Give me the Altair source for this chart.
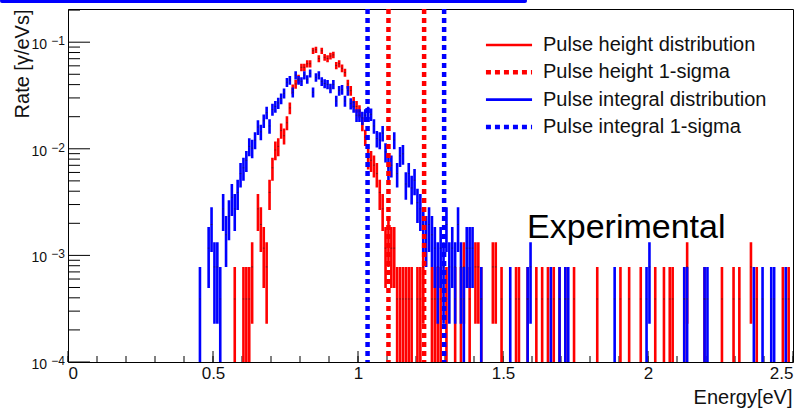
import math
import altair as alt
import pandas as pd

# ---------------- data ----------------
BIN_WIDTH = 0.01          # eV per histogram bin
RATE_PER_COUNT = 3.9e-4   # rate level of a single-count bin
Y_MIN, Y_MAX = 1e-4, 0.2048
X_MIN, X_MAX = 0.0, 2.5

SERIES = ["Pulse height distribution", "Pulse height 1-sigma",
          "Pulse integral distribution", "Pulse integral 1-sigma"]
COLORS = ["#ff0000", "#ff0000", "#0000ff", "#0000ff"]

# Pulse height distribution (red): counts per bin, dense part starts at bin 57
red_start_bin = 57
red_counts = [1, 0, 0, 1, 1, 1, 2, 0, 7, 5, 3, 2, 10, 17, 25, 27, 38, 34, 45, 62,
              93, 104, 116, 149, 149, 161, 161, 213, 218, 180, 213, 185, 180, 190, 195, 155,
              161, 146, 133, 104, 90, 70, 64, 58, 44, 33, 21, 20, 18, 15, 10, 7,
              3, 4, 3, 3, 1, 1, 1, 1, 1, 1, 0, 1, 1, 2, 0, 0, 1, 1, 1, 1,
              0, 1, 0, 0, 1, 0, 1, 2, 0, 1, 0, 2, 2, 1, 0, 0, 0, 2, 2, 0, 1]
red_tail_bins = [154, 155, 158, 161, 163, 165, 167, 169, 171, 174, 182, 190, 193, 197,
                 202, 205, 207, 208, 212, 213, 219, 225, 229, 231, 235, 237, 246, 248]
red_tail_counts = [1, 1, 1, 1, 1, 1, 1, 1, 1, 1, 1, 1, 1, 1,
                   1, 1, 1, 1, 1, 2, 1, 1, 1, 1, 2, 1, 1, 1]

# Pulse integral distribution (blue)
blue_start_bin = 45
blue_counts = [1, 0, 0, 3, 5, 2, 2, 1, 7, 4, 6, 9, 7, 10, 15, 17, 20, 27, 26, 31,
               41, 37, 47, 56, 42, 60, 64, 69, 76, 85, 108, 113, 87, 126, 113, 110,
               126, 115, 131, 87, 120, 126, 110, 105, 103, 95, 103, 72, 90, 92, 72, 90,
               68, 64, 53, 53, 50, 53, 56, 54, 42, 32, 31, 36, 24, 17, 18, 31,
               15, 22, 23, 12, 15, 11, 13, 8, 7, 5, 4, 5, 4, 3, 2, 3, 2, 5, 2, 3,
               2, 5, 2, 1, 3, 3, 3, 0, 0, 1]
blue_tail_bins = [152, 158, 159, 166, 169, 171, 172, 188, 199, 200, 212, 213, 219, 220,
                  236, 239, 242, 243, 247]
blue_tail_counts = [1, 1, 2, 1, 1, 1, 1, 1, 1, 2, 1, 1, 1, 1, 1, 1, 1, 1, 1]

# 1-sigma markers (eV)
red_sigma = [1.105, 1.228]
blue_sigma = [1.033, 1.297]

# axis decorations
x_major = [0, 0.5, 1, 1.5, 2, 2.5]
x_minor = [round(0.1 * i, 2) for i in range(26)]
y_major = [1e-4, 1e-3, 1e-2, 1e-1]
y_exponents = ["\u22124", "\u22123", "\u22122", "\u22121"]
y_minor = [k * d for d in y_major for k in range(2, 10) if k * d <= Y_MAX]

annotation_text = ["Experimental"]
annotation_x = [1.583]
annotation_y = [1.46e-3]

FONT = "Liberation Sans"


# ---------------- tables ----------------
def hist_rows(name, start, dense, tail_bins, tail_counts):
    pairs = [(start + i, c) for i, c in enumerate(dense)] + list(zip(tail_bins, tail_counts))
    rows = []
    for b, c in pairs:
        if c <= 0:
            continue
        rate = c * RATE_PER_COUNT
        err = math.sqrt(c) * RATE_PER_COUNT
        rows.append({
            "series": name,
            "e": (b + 0.5) * BIN_WIDTH,
            "e_lo": b * BIN_WIDTH + 0.002,
            "e_hi": (b + 1) * BIN_WIDTH - 0.002,
            "rate": rate,
            "lo": max(rate - err, Y_MIN),
            "hi": min(rate + err, Y_MAX),
        })
    return rows


hist = pd.DataFrame(
    hist_rows(SERIES[0], red_start_bin, red_counts, red_tail_bins, red_tail_counts)
    + hist_rows(SERIES[2], blue_start_bin, blue_counts, blue_tail_bins, blue_tail_counts)
)
sigma = pd.DataFrame(
    [{"series": SERIES[1], "e": v} for v in red_sigma]
    + [{"series": SERIES[3], "e": v} for v in blue_sigma]
)

xscale = alt.Scale(domain=[X_MIN, X_MAX], nice=False, zero=False)
yscale = alt.Scale(type="log", domain=[Y_MIN, Y_MAX], nice=False)

color_enc = alt.Color("series:N", scale=alt.Scale(domain=SERIES, range=COLORS),
                      legend=alt.Legend(
                          orient="none", legendX=431, legendY=26, title=None,
                          symbolType="M-5,0H5", symbolSize=85,
                          labelFont=FONT, labelFontSize=20, labelColor="#111",
                          labelOffset=24, rowPadding=7.3, labelLimit=400,
                          symbolFillColor="transparent"))
dash_enc = alt.StrokeDash("series:N", scale=alt.Scale(
    domain=SERIES, range=[[1, 0], [5, 4], [1, 0], [5, 4]]), legend=None)
width_enc = alt.StrokeWidth("series:N", scale=alt.Scale(
    type="ordinal", domain=SERIES, range=[2.6, 4.5, 2.6, 4.5]), legend=None)

x_axis = alt.Axis(values=x_major, format="~g", labelFont=FONT, labelFontSize=17,
                  labelColor="#111", labelPadding=3, ticks=False, domain=False,
                  grid=False, title="Energy[eV]", titleFont=FONT, titleFontSize=20,
                  titleFontWeight="normal", titleColor="#111", titleX=724,
                  titleY=41, titleAlign="right", titleBaseline="alphabetic")
y_axis = alt.Axis(labels=False, ticks=False, domain=False, grid=False,
                  title="Rate [\u03b3/eVs]", titleFont=FONT, titleFontSize=20,
                  titleFontWeight="normal", titleColor="#111", titleAngle=270,
                  titleAlign="right", titleBaseline="middle", titleX=-46, titleY=0)

# ticks (drawn inside the frame, like ROOT)
ticks_y_major = alt.Chart(pd.DataFrame({"v": y_major})).mark_rule(
    color="black", strokeWidth=1).encode(
    y=alt.Y("v:Q", scale=yscale, axis=y_axis), x=alt.value(0), x2=alt.value(22))
ticks_y_minor = alt.Chart(pd.DataFrame({"v": y_minor})).mark_rule(
    color="black", strokeWidth=1).encode(
    y=alt.Y("v:Q", scale=yscale), x=alt.value(0), x2=alt.value(12))
ticks_x_major = alt.Chart(pd.DataFrame({"v": x_major})).mark_rule(
    color="black", strokeWidth=1).encode(
    x=alt.X("v:Q", scale=xscale, axis=x_axis), y=alt.value(353), y2=alt.value(342))
ticks_x_minor = alt.Chart(pd.DataFrame({"v": x_minor})).mark_rule(
    color="black", strokeWidth=1).encode(
    x=alt.X("v:Q", scale=xscale), y=alt.value(353), y2=alt.value(347))

ylab_df = pd.DataFrame({"v": y_major, "base": ["10"] * 4, "exp": y_exponents})
ylab_base = alt.Chart(ylab_df).mark_text(
    font=FONT, fontSize=14, align="right", baseline="middle", dy=3, color="#111").encode(
    y=alt.Y("v:Q", scale=yscale), x=alt.value(-21), text="base:N")
ylab_exp = alt.Chart(ylab_df).mark_text(
    font=FONT, fontSize=12, align="right", baseline="middle", dy=-1, color="#111").encode(
    y=alt.Y("v:Q", scale=yscale), x=alt.value(-3), text="exp:N")

bars = alt.Chart(hist).mark_rule().encode(
    x=alt.X("e:Q", scale=xscale),
    y=alt.Y("lo:Q", scale=yscale),
    y2="hi:Q",
    color=color_enc, strokeDash=dash_enc, strokeWidth=width_enc)

markers = alt.Chart(hist).mark_rule(color="#222", strokeWidth=1, opacity=0.6).encode(
    x=alt.X("e_lo:Q", scale=xscale), x2="e_hi:Q",
    y=alt.Y("rate:Q", scale=yscale))

sigma_lines = alt.Chart(sigma).mark_rule().encode(
    x=alt.X("e:Q", scale=xscale),
    color=color_enc, strokeDash=dash_enc, strokeWidth=width_enc)

annot = alt.Chart(pd.DataFrame({"t": annotation_text, "x": annotation_x,
                                "y": annotation_y})).mark_text(
    font=FONT, fontSize=34, align="left", baseline="alphabetic", color="black").encode(
    x=alt.X("x:Q", scale=xscale), y=alt.Y("y:Q", scale=yscale), text="t:N")

top_bar = alt.Chart(pd.DataFrame({"k": [0]})).mark_rule(
    color="#0000ff", strokeWidth=4, strokeCap="round").encode(
    x=alt.value(-66), x2=alt.value(457), y=alt.value(-8))

chart = alt.layer(
    ticks_x_major, ticks_x_minor, ticks_y_major, ticks_y_minor,
    ylab_base, ylab_exp,
    bars, markers, sigma_lines, annot, top_bar
).properties(
    width=725, height=353,
    padding={"left": 68, "top": 9, "right": 14, "bottom": 47},
    autosize=alt.AutoSizeParams(type="none"),
    background="white",
).configure_view(stroke="black", strokeWidth=1)

chart.save("out.html", embed_options={"renderer": "svg", "actions": False})
